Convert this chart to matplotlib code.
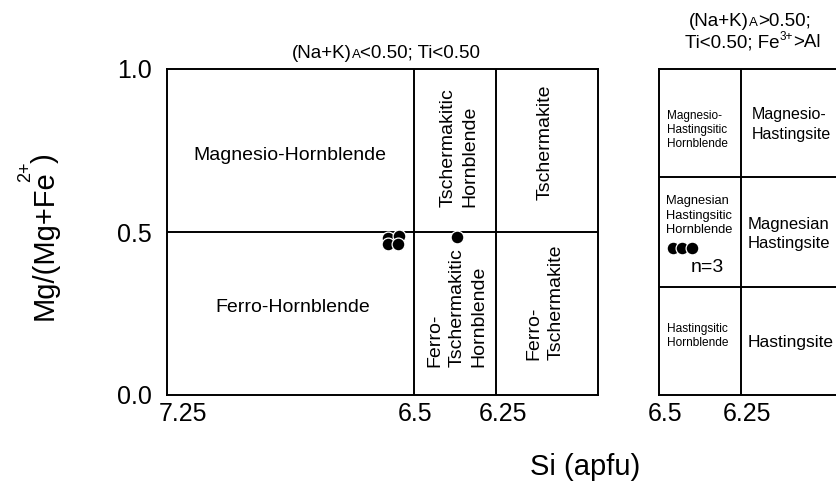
import matplotlib
matplotlib.use("Agg")
import matplotlib.pyplot as plt
from matplotlib.transforms import ScaledTranslation

plt.rcParams["font.family"] = ["Liberation Sans", "DejaVu Sans"]

# ── data ────────────────────────────────────────────────────────────────────
# left panel: (Na+K)A < 0.50; Ti < 0.50
left_si = [6.579, 6.546, 6.579, 6.549, 6.369]
left_mg = [0.482, 0.488, 0.463, 0.463, 0.485]
left_xticks = [7.25, 6.5, 6.25]
left_xlabels = ["7.25", "6.5", "6.25"]
left_si_bounds = [6.5, 6.25]
left_mg_bounds = [0.5]

# right panel: (Na+K)A > 0.50; Ti < 0.50; Fe3+ > Al
right_si = [6.457, 6.430, 6.399]
right_mg = [0.451, 0.451, 0.451]
right_xticks = [6.5, 6.25]
right_xlabels = ["6.5", "6.25"]
right_si_bounds = [6.25]
right_mg_bounds = [0.33, 0.67]

yticks = [0.0, 0.5, 1.0]
ylabels = ["0.0", "0.5", "1.0"]

LW = 1.4

fig = plt.figure(figsize=(8.36, 4.96), dpi=100)
W, H = 836, 496

ax1 = fig.add_axes([167 / W, 101 / H, 431 / W, 326 / H])
ax2 = fig.add_axes([659 / W, 101 / H, 246 / W, 326 / H])

ax1.set_xlim(7.25, 7.25 - 431 / 82.33 * 0.25)
ax2.set_xlim(6.5, 5.75)
for ax in (ax1, ax2):
    ax.set_ylim(0, 1)
    for sp in ax.spines.values():
        sp.set_linewidth(LW)
    ax.tick_params(length=0, labelsize=18)
    ax.tick_params(axis="x", pad=5)
    ax.tick_params(axis="y", pad=11)

ax1.set_xticks(left_xticks, left_xlabels)
ax1.set_yticks(yticks, ylabels)
ax2.set_xticks(right_xticks, right_xlabels)
ax2.set_yticks([])

# the hand-placed tick labels sit a little right of their ticks
for ax, shifts in ((ax1, [16, 1, 7]), (ax2, [6, 6])):
    for lab, dx in zip(ax.get_xticklabels(), shifts):
        lab.set_transform(lab.get_transform() + ScaledTranslation(dx / 100, 0, fig.dpi_scale_trans))

for v in left_si_bounds:
    ax1.axvline(v, color="black", lw=LW)
for v in left_mg_bounds:
    ax1.axhline(v, color="black", lw=LW)
for v in right_si_bounds:
    ax2.axvline(v, color="black", lw=LW)
for v in right_mg_bounds:
    ax2.axhline(v, color="black", lw=LW)

ax1.scatter(left_si, left_mg, s=85, color="black", edgecolor="white", linewidth=0.9, zorder=5)
ax2.scatter(right_si, right_mg, s=85, color="black", edgecolor="white", linewidth=0.9, zorder=5)

# ── field names ──────────────────────────────────────────────────────────────
ax1.text(6.876, 0.736, "Magnesio-Hornblende", fontsize=14, ha="center", va="center")
ax1.text(6.869, 0.267, "Ferro-Hornblende", fontsize=14, ha="center", va="center")
ax1.text(6.363, 0.758, "Tschermakitic\nHornblende", fontsize=14, rotation=90,
         ha="center", va="center", multialignment="left", linespacing=1.4)
ax1.text(6.102, 0.775, "Tschermakite", fontsize=14, rotation=90, ha="center", va="center")
ax1.text(6.369, 0.268, "Ferro-\nTschermakitic\nHornblende", fontsize=14, rotation=90,
         ha="center", va="center", multialignment="left", linespacing=1.4)
ax1.text(6.102, 0.284, "Ferro-\nTschermakite", fontsize=14, rotation=90,
         ha="center", va="center", multialignment="left", linespacing=1.4)

ax2.text(6.477, 0.813, "Magnesio-\nHastingsitic\nHornblende", fontsize=8.5,
         ha="left", va="center", linespacing=1.25)
ax2.text(6.479, 0.55, "Magnesian\nHastingsitic\nHornblende", fontsize=9.3,
         ha="left", va="center", linespacing=1.25)
ax2.text(6.477, 0.18, "Hastingsitic\nHornblende", fontsize=8.6,
         ha="left", va="center", linespacing=1.25)
ax2.text(6.354, 0.39, "n=3", fontsize=14, ha="center", va="center")
ax2.text(6.216, 0.83, "Magnesio-\nHastingsite", fontsize=11.5, ha="left", va="center",
         linespacing=1.35)
ax2.text(6.229, 0.495, "Magnesian\nHastingsite", fontsize=12, ha="left", va="center",
         linespacing=1.35)
ax2.text(6.229, 0.16, "Hastingsite", fontsize=12.5, ha="left", va="center")


def rich_line(xc, y_base, pieces):
    """Place text pieces side by side, centred at xc (pixels).

    Each piece is (text, fontsize, baseline shift in pixels)."""
    renderer = fig.canvas.get_renderer()
    texts = [fig.text(0, 1 - (y_base - dy) / H, s, fontsize=fs, va="baseline", ha="left")
             for s, fs, dy in pieces]
    widths = [t.get_window_extent(renderer).width for t in texts]
    x = xc - sum(widths) / 2
    for t, w in zip(texts, widths):
        t.set_x(x / W)
        x += w


def rich_vertical(x_base, yc, pieces):
    """Rotated version: pieces are (text, fontsize, baseline shift, kern) in pixels,
    centred at yc (pixels from top)."""
    renderer = fig.canvas.get_renderer()
    texts = [fig.text((x_base - dy) / W, 0, s, fontsize=fs, rotation=90,
                      rotation_mode="anchor", ha="left", va="baseline")
             for s, fs, dy, _ in pieces]
    heights = [t.get_window_extent(renderer).height for t in texts]
    kerns = [k for *_, k in pieces]
    y = (H - yc) - (sum(heights) + sum(kerns)) / 2
    for t, h, k in zip(texts, heights, kerns):
        y += k
        t.set_y(y / H)
        y += h


rich_line(386, 57.5, [("(Na+K)", 13.5, 0), ("A", 9.5, 0), ("<0.50; Ti<0.50", 13.5, 0)])
rich_line(750, 26, [("(Na+K)", 13.5, 0), ("A", 9.5, 0), (">0.50;", 13.5, 0)])
rich_line(753, 47, [("Ti<0.50; Fe", 13.5, 0), ("3+", 8.5, 7), (">Al", 13.5, 0)])

rich_vertical(53, 237, [("Mg/(Mg+Fe", 21, 0, 0), ("2+", 13, 23, -11), (")", 21, 0, -2)])
fig.text(585 / W, 1 - 467 / H, "Si (apfu)", fontsize=21, ha="center", va="center")

fig.savefig("out.png", dpi=100)
